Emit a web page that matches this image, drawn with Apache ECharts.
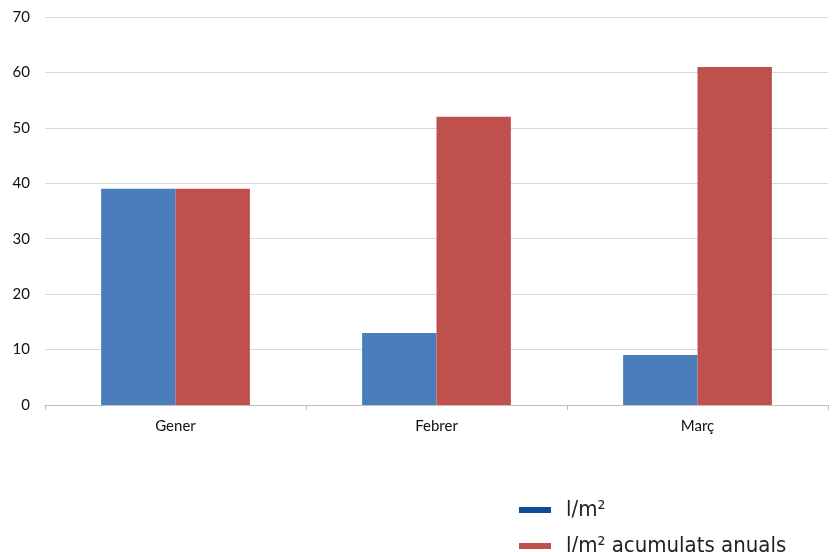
<!DOCTYPE html>
<html><head><meta charset="utf-8">
<script src="https://cdn.jsdelivr.net/npm/echarts@6/dist/echarts.min.js"></script>
<style>html,body{margin:0;padding:0;background:#fff}#c{width:832px;height:552px}</style>
</head><body><div id="c"></div>
<script>
const categories = ['Gener', 'Febrer', 'Març'];
const seriesNames = ['l/m²', 'l/m² acumulats anuals'];
const monthly = [39, 13, 9];
const accumulated = [39, 52, 61];
const yTicks = [0, 10, 20, 30, 40, 50, 60, 70];

const legendText = { fontFamily: '"Liberation Sans Narrow", "DejaVu Sans Condensed", sans-serif', fontSize: 22, color: '#222', lineHeight: 24, padding: [0, 0, 0, 10] };
const chart = echarts.init(document.getElementById('c'));
chart.setOption({
  animation: false,
  grid: { left: 45, right: 4, top: 17, bottom: 147 },
  legend: [
    { left: 519, top: 498, itemWidth: 32, itemHeight: 6, icon: 'rect', padding: 0, textStyle: legendText,
      data: [{ name: seriesNames[0], itemStyle: { color: '#0f4c96' } }] },
    { left: 519, top: 534, itemWidth: 32, itemHeight: 6, icon: 'rect', padding: 0, textStyle: legendText,
      data: [{ name: seriesNames[1], itemStyle: { color: '#c0504d' } }] }
  ],
  xAxis: {
    type: 'category', data: categories,
    axisLine: { lineStyle: { color: '#bfbfbf' } },
    axisTick: { show: true, length: 5, lineStyle: { color: '#bfbfbf' } },
    axisLabel: { color: '#111', fontSize: 15, fontFamily: 'Lato, "Open Sans", sans-serif', margin: 14 }
  },
  yAxis: {
    type: 'value', min: yTicks[0], max: yTicks[yTicks.length - 1], interval: 10,
    axisLine: { show: false }, axisTick: { show: false },
    splitLine: { lineStyle: { color: '#d9d9d9' } },
    axisLabel: { color: '#111', fontSize: 15, fontFamily: 'Lato, "Open Sans", sans-serif', margin: 15 }
  },
  series: [
    { name: seriesNames[0], type: 'bar', data: monthly, barGap: '0%', barCategoryGap: '43%', itemStyle: { color: '#4a7ebb' } },
    { name: seriesNames[1], type: 'bar', data: accumulated, itemStyle: { color: '#c0504d' } }
  ]
});
</script></body></html>
